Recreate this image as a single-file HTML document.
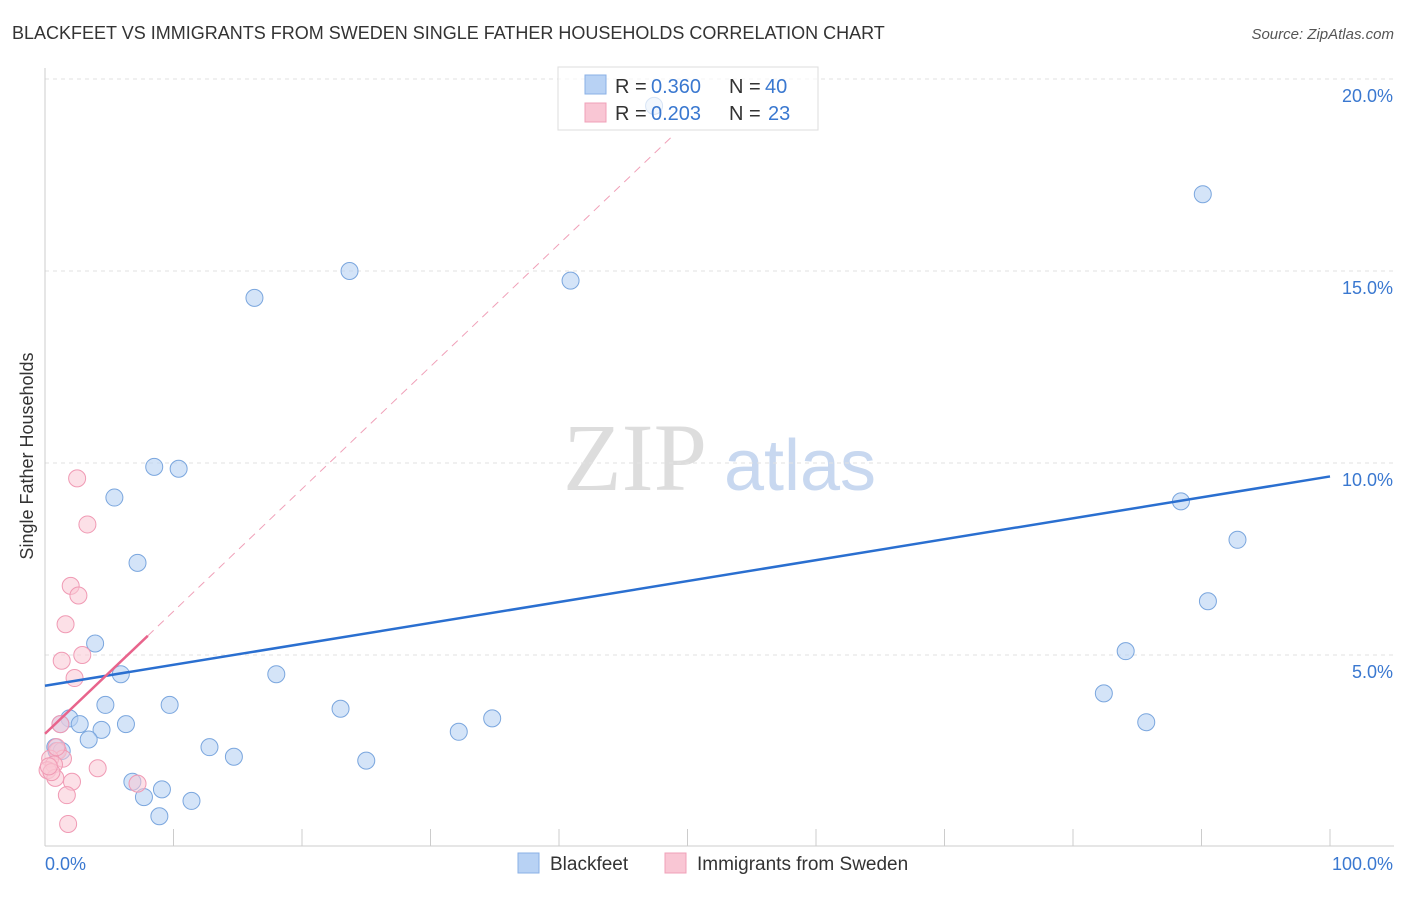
<!DOCTYPE html>
<html><head><meta charset="utf-8"><style>
body{margin:0;background:#fff;font-family:"Liberation Sans",sans-serif}
</style></head><body>
<svg width="1406" height="892" xmlns="http://www.w3.org/2000/svg" id="svg">
<text x="12" y="39" font-size="18" fill="#333">BLACKFEET VS IMMIGRANTS FROM SWEDEN SINGLE FATHER HOUSEHOLDS CORRELATION CHART</text>
<text x="1394" y="39" font-size="15" fill="#555" font-style="italic" text-anchor="end">Source: ZipAtlas.com</text>
<text x="33" y="456" font-size="18" fill="#333" text-anchor="middle" transform="rotate(-90 33 456)">Single Father Households</text>
<g><text x="635" y="490" font-size="96" fill="#ddd" font-family="Liberation Serif" text-anchor="middle">ZIP</text><text x="800" y="490" font-size="72" fill="#c8d8f0" text-anchor="middle">atlas</text></g>
<g id="grid"></g><g id="axes"></g><g id="pts"></g><g id="lines"></g>
<g>
<rect x="558" y="67" width="260" height="63" fill="#fff" fill-opacity="0.7" stroke="#ddd"/>
<rect x="585" y="75" width="21" height="19" fill="#b8d2f4" stroke="#8ab0e6"/>
<rect x="585" y="103" width="21" height="19" fill="#f9c6d4" stroke="#f0a0b8"/>
<text x="615" y="93" font-size="20" fill="#333">R =</text><text x="651" y="93" font-size="20" fill="#3a78d0">0.360</text>
<text x="729" y="93" font-size="20" fill="#333">N =</text><text x="765" y="93" font-size="20" fill="#3a78d0">40</text>
<text x="615" y="120" font-size="20" fill="#333">R =</text><text x="651" y="120" font-size="20" fill="#3a78d0">0.203</text>
<text x="729" y="120" font-size="20" fill="#333">N =</text><text x="768" y="120" font-size="20" fill="#3a78d0">23</text>
</g>
<g>
<rect x="518" y="853" width="21" height="20" fill="#b8d2f4" stroke="#8ab0e6"/>
<text x="550" y="870" font-size="19" fill="#333">Blackfeet</text>
<rect x="665" y="853" width="21" height="20" fill="#f9c6d4" stroke="#f0a0b8"/>
<text x="697" y="870" font-size="19" fill="#333">Immigrants from Sweden</text>
</g>
</svg>
<script>
const yTicks=[5,10,15,20];
const yTickLabels=["5.0%","10.0%","15.0%","20.0%"];
const blueX=[8.5,10.4,5.4,7.2,3.9,5.9,4.7,9.7,1.9,2.7,1.2,6.3,4.4,3.4,0.8,0.9,12.8,14.7,6.8,9.1,7.7,11.4,8.9,16.3,23.7,40.9,18,23,25,32.2,34.8,90.1,88.4,92.8,90.5,84.1,82.4,85.7,47.4,1.3];
const blueY=[9.9,9.85,9.1,7.4,5.3,4.5,3.7,3.7,3.35,3.2,3.2,3.2,3.05,2.8,2.6,2.5,2.6,2.35,1.7,1.5,1.3,1.2,0.8,14.3,15.0,14.75,4.5,3.6,2.25,3.0,3.35,17.0,9.0,8.0,6.4,5.1,4.0,3.25,19.3,2.5];
const pinkX=[2.5,3.3,2.0,2.6,1.6,1.3,2.9,2.3,1.2,1.0,1.4,0.4,0.7,0.2,0.8,2.1,4.1,7.2,1.7,1.8,0.5,0.9,0.3];
const pinkY=[9.6,8.4,6.8,6.55,5.8,4.85,5.0,4.4,3.2,2.5,2.3,2.3,2.15,2.0,1.8,1.7,2.05,1.65,1.35,0.6,1.95,2.6,2.1];
const blueLine=[4.2,9.65];
const pinkLine=[2.95,5.5,8.0];
const X=v=>45+v*12.85, Y=v=>847-v*38.4;
const ns='http://www.w3.org/2000/svg';
function mk(t,a,p){const e=document.createElementNS(ns,t);for(const k in a)e.setAttribute(k,a[k]);document.getElementById(p).appendChild(e);return e;}
yTicks.forEach((t,i)=>{
 const l=mk('line',{x1:45,x2:1394,y1:Y(t),y2:Y(t),stroke:'#e2e2e2','stroke-dasharray':'4,4'},'grid');
 
 
 const tx=mk('text',{x:1393,y:Y(t)+23,'font-size':18,fill:'#3a78d0','text-anchor':'end'},'axes');
 tx.textContent=yTickLabels[i];
 
 
});
const ax=mk('line',{x1:45,x2:45,y1:68,y2:846,stroke:'#ccc'},'axes');


const bx=mk('line',{x1:45,x2:1394,y1:846,y2:846,stroke:'#ccc'},'axes');


for(let i=0;i<=10;i++){const t=mk('line',{x1:X(i*10),x2:X(i*10),y1:829,y2:846,stroke:'#ccc'},'axes');
 
 }
const l0=mk('text',{x:45,y:870,'font-size':18,fill:'#3a78d0'},'axes');l0.textContent='0.0%';


const l1=mk('text',{x:1393,y:870,'font-size':18,fill:'#3a78d0','text-anchor':'end'},'axes');l1.textContent='100.0%';


blueX.forEach((v,i)=>{const c=mk('circle',{cx:X(v),cy:Y(blueY[i]),r:8.5,fill:'#b8d2f4','fill-opacity':0.6,stroke:'#7aa6de'},'pts');
 
 });
pinkX.forEach((v,i)=>{const c=mk('circle',{cx:X(v),cy:Y(pinkY[i]),r:8.5,fill:'#f9c6d4','fill-opacity':0.55,stroke:'#f09ab4'},'pts');
 
 });
const bl=mk('line',{x1:X(0),y1:Y(blueLine[0]),x2:X(100),y2:Y(blueLine[1]),stroke:'#2a6fd0','stroke-width':2.5},'lines');


const slope=(pinkLine[1]-pinkLine[0])/pinkLine[2];
const pd=mk('line',{x1:X(pinkLine[2]),y1:Y(pinkLine[1]),x2:X(49),y2:Y(pinkLine[0]+slope*49),stroke:'#f0a0b8','stroke-dasharray':'8,6','stroke-width':1},'lines');


const pl=mk('line',{x1:X(0),y1:Y(pinkLine[0]),x2:X(pinkLine[2]),y2:Y(pinkLine[1]),stroke:'#e8648c','stroke-width':2.5},'lines');


</script>
</body></html>
